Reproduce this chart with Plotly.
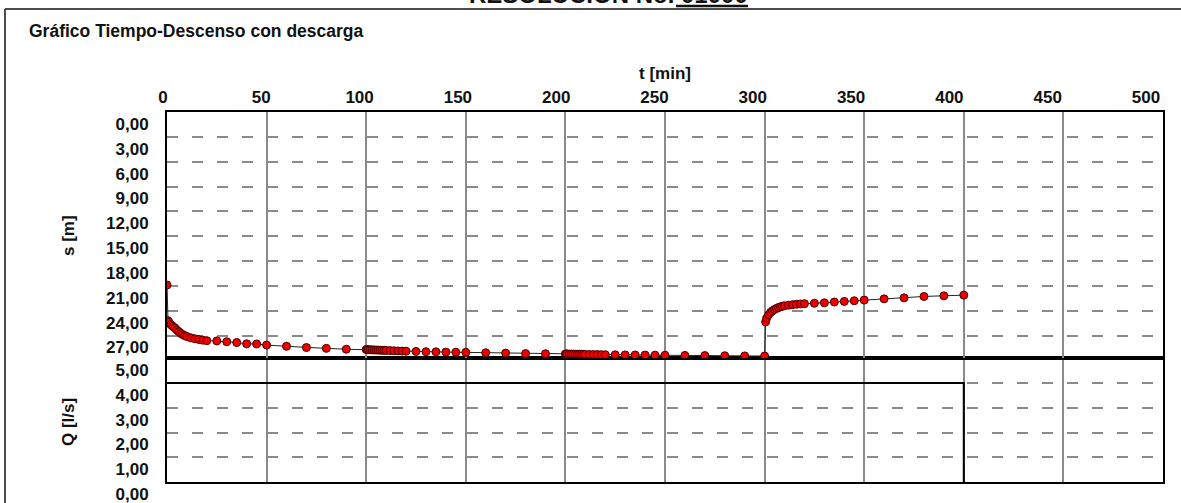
import plotly.graph_objects as go

# ---------------- data ----------------
# drawdown test: time [min] and drawdown s [m]
t_seg1 = [0, 0.5, 1, 2, 3, 4, 5, 6, 7, 8, 9, 10, 12, 14, 16, 18, 20, 25, 30, 35, 40, 45, 50, 60, 70, 80, 90]
s_seg1 = [20.9, 25.2, 25.4, 25.7, 25.9, 26.1, 26.35, 26.55, 26.75, 26.9, 27.02, 27.12, 27.28, 27.39, 27.48,
          27.56, 27.62, 27.65, 27.75, 27.85, 28.0, 28.02, 28.15, 28.3, 28.45, 28.55, 28.65]
t_seg2 = [100, 100.5, 101, 102, 103, 104, 105, 106, 107, 108, 109, 110, 112, 114, 116, 118, 120, 125, 130, 135,
          140, 145, 150, 160, 170, 180, 190]
s_seg2 = [28.68, 28.7, 28.71, 28.72, 28.73, 28.74, 28.75, 28.76, 28.77, 28.78, 28.79, 28.8, 28.82, 28.84, 28.86,
          28.88, 28.9, 28.92, 28.95, 28.97, 29.0, 29.02, 29.03, 29.08, 29.12, 29.18, 29.2]
t_seg3 = [200, 200.5, 201, 202, 203, 204, 205, 206, 207, 208, 209, 210, 212, 214, 216, 218, 220, 225, 230, 235,
          240, 245, 250, 260, 270, 280, 290, 300]
s_seg3 = [29.22, 29.23, 29.23, 29.24, 29.24, 29.25, 29.25, 29.26, 29.26, 29.27, 29.27, 29.28, 29.29, 29.3, 29.3,
          29.31, 29.32, 29.33, 29.34, 29.35, 29.36, 29.37, 29.38, 29.4, 29.42, 29.44, 29.46, 29.48]
t_seg4 = [300.5, 301, 302, 303, 304, 305, 306, 307, 308, 309, 310, 312, 314, 316, 318, 320, 325, 330, 335, 340,
          345, 350, 360, 370, 380, 390, 400]
s_seg4 = [25.35, 24.9, 24.5, 24.2, 24.0, 23.85, 23.72, 23.62, 23.53, 23.46, 23.4, 23.33, 23.27, 23.22, 23.18,
          23.15, 23.1, 23.05, 22.95, 22.88, 22.8, 22.72, 22.57, 22.45, 22.28, 22.2, 22.12]

# discharge Q [l/s]
q_t = [0, 400, 400]
q_vals = [4, 4, 0]

# tick labels
t_ticks = [0, 50, 100, 150, 200, 250, 300, 350, 400, 450, 500]
s_ticks = [0, 3, 6, 9, 12, 15, 18, 21, 24, 27]
s_tick_labels = ["0,00", "3,00", "6,00", "9,00", "12,00", "15,00", "18,00", "21,00", "24,00", "27,00"]
q_ticks = [0, 1, 2, 3, 4, 5]
q_tick_labels = ["0,00", "1,00", "2,00", "3,00", "4,00", "5,00"]

t_min = t_seg1 + t_seg2 + t_seg3 + t_seg4
s_m = s_seg1 + s_seg2 + s_seg3 + s_seg4

# ---------------- layout geometry ----------------
W, H = 1181, 503
L, R, T, B = 167, 18, 112, 21
plot_w = W - L - R
plot_h = H - T - B
SPLIT_PX = 358.3
split = (H - B - SPLIT_PX) / plot_h
LABEL_PX_PER_MIN = 1.966          # tick labels in the reference sit on a slightly tighter scale
label_range_max = plot_w / LABEL_PX_PER_MIN


def px(x):
    return (x - L) / plot_w


def py(y):
    return (H - B - y) / plot_h


FONT = "Liberation Sans, Arial, sans-serif"
GRID = "#8a8a8a"
TICKFONT = dict(family=FONT, size=17, color="#111", weight="bold")

fig = go.Figure()
fig.add_trace(go.Scatter(
    x=q_t, y=q_vals, mode="lines", xaxis="x", yaxis="y",
    line=dict(color="black", width=2), showlegend=False, hoverinfo="skip"))
fig.add_trace(go.Scatter(
    x=t_min, y=s_m, mode="lines+markers", xaxis="x2", yaxis="y2",
    line=dict(color="#222222", width=1),
    marker=dict(size=8, color="#ee0000", line=dict(color="#4a0000", width=1)),
    showlegend=False))
# carrier for the tick-label axis (no visible marks)
fig.add_trace(go.Scatter(x=[t_ticks[0]], y=[s_ticks[0]], mode="markers", xaxis="x3", yaxis="y2",
                         marker=dict(size=1, opacity=0), showlegend=False, hoverinfo="skip"))

common_x = dict(range=[0, 500], tick0=0, dtick=50, showgrid=True, gridcolor=GRID, gridwidth=1.5,
                zeroline=False, showline=True, linecolor="black", linewidth=2, mirror=True,
                ticks="", automargin=False, fixedrange=True)
common_y = dict(showgrid=True, gridcolor=GRID, gridwidth=2, griddash="11px,14px", zeroline=False,
                showline=True, linecolor="black", linewidth=2, mirror=True, ticks="",
                automargin=False, ticklabelstandoff=13, tickfont=TICKFONT, fixedrange=True,
                ticklabeloverflow="allow")

fig.update_layout(
    width=W, height=H, template="none",
    margin=dict(l=L, r=R, t=T, b=B, pad=0),
    paper_bgcolor="white", plot_bgcolor="white",
    font=dict(family=FONT, color="#111"),
    showlegend=False,
    xaxis=dict(domain=[0, 1], anchor="y", showticklabels=False, **common_x),
    xaxis2=dict(domain=[0, 1], anchor="y2", showticklabels=False, **common_x),
    xaxis3=dict(domain=[0, 1], anchor="y2", overlaying="x2", side="top", range=[0, label_range_max],
                tickvals=t_ticks, ticks="", showgrid=False, zeroline=False, showline=False,
                ticklabelshift=-4, ticklabelstandoff=5, tickfont=TICKFONT, automargin=False,
                ticklabeloverflow="allow", fixedrange=True),
    yaxis=dict(domain=[0, split], anchor="x", range=[0, 5], tickvals=q_ticks, ticktext=q_tick_labels,
               ticklabelshift=12, **common_y),
    yaxis2=dict(domain=[split, 1], anchor="x2", range=[29.75, 0], tickvals=s_ticks, ticktext=s_tick_labels,
                ticklabelshift=-12, **common_y),
)

ann_font = dict(family=FONT, size=17, color="#111", weight="bold")
fig.add_annotation(text="Gráfico Tiempo-Descenso con descarga", xref="paper", yref="paper",
                   x=px(27), y=py(31), xanchor="left", yanchor="middle", showarrow=False,
                   font=dict(family=FONT, size=17.5, color="#111", weight="bold"))
fig.add_annotation(text="t [min]", xref="paper", yref="paper", x=px(665), y=py(74),
                   xanchor="center", yanchor="middle", showarrow=False, font=ann_font)
fig.add_annotation(text="s [m]", xref="paper", yref="paper", x=px(68), y=py(236), textangle=-90,
                   xanchor="center", yanchor="middle", showarrow=False, font=ann_font)
fig.add_annotation(text="Q [l/s]", xref="paper", yref="paper", x=px(68), y=py(422), textangle=-90,
                   xanchor="center", yanchor="middle", showarrow=False, font=ann_font)
fig.add_annotation(text="RESOLUCIÓN No. 01000", xref="paper", yref="paper", x=px(608), y=py(-5),
                   xanchor="center", yanchor="middle", showarrow=False,
                   font=dict(family=FONT, size=24, color="#111", weight="bold"))

# outer frame (left and top edges) and underline of the header number
frame = dict(color="#4d4d4d", width=2)
fig.add_shape(type="line", xref="paper", yref="paper", x0=px(5), x1=px(5), y0=py(9), y1=py(H + 5), line=frame)
fig.add_shape(type="line", xref="paper", yref="paper", x0=px(5), x1=px(W + 5), y0=py(9), y1=py(9), line=frame)
fig.add_shape(type="line", xref="paper", yref="paper", x0=px(676), x1=px(748), y0=py(6), y1=py(6),
              line=dict(color="#111", width=2.5))

fig.write_html("out.html", config={"displayModeBar": False},
               post_script="document.body.style.margin='0';")
